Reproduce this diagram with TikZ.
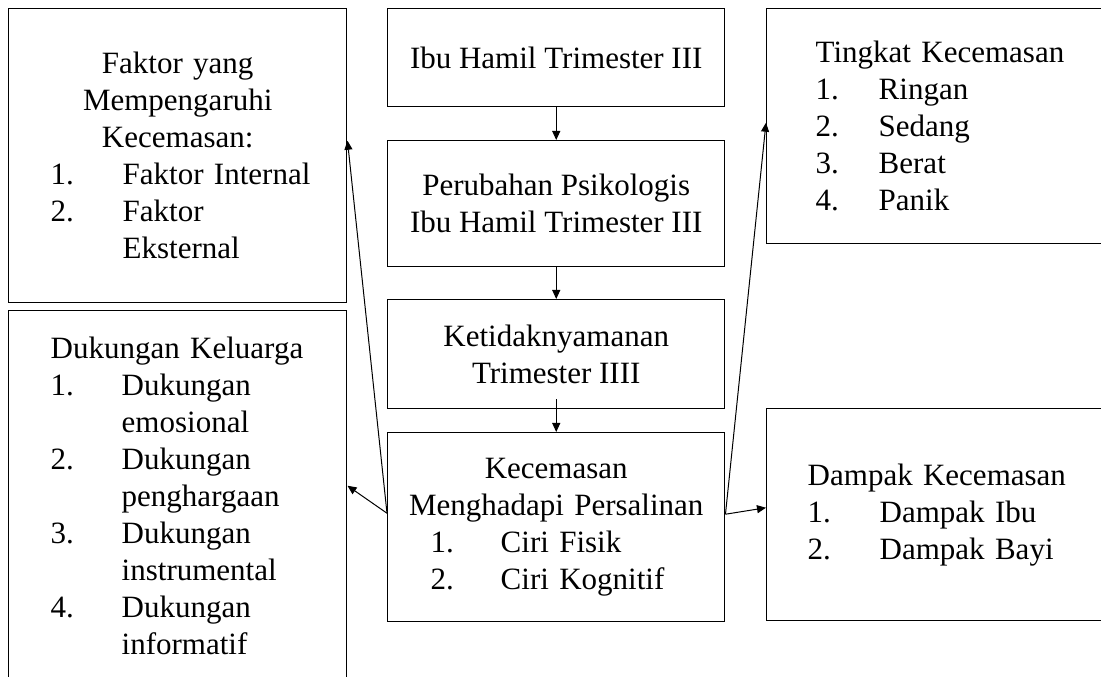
\documentclass[tikz,border=0pt]{standalone}
\usepackage{fontspec}
\setmainfont{Liberation Serif}
\usetikzlibrary{arrows.meta,calc}

\tikzset{every picture/.style={line width=0.75pt}}
\tikzset{
  box/.style={draw, line width=1.1pt, anchor=north west, font=\fontsize{23.25pt}{27.75pt}\selectfont},
  cbox/.style={box, align=center, minimum width=252.75pt, inner xsep=0pt},
  lbox/.style={box, align=left},
  arr/.style={-{Triangle[length=6.75pt,width=6pt]}, line width=0.75pt},
}
% nomor urut + isi, tanpa pemenggalan baris
\newcommand{\butir}[3]{\mbox{\makebox[#1][l]{#2}#3}}
\newcommand{\judul}[1]{\makebox[\linewidth]{#1}}

\begin{document}
\begin{tikzpicture}[x=0.75pt,y=0.75pt,yscale=-1,xscale=1]
\clip (0,0) rectangle (1101,677);

%Flowchart: Process [faktor]
\draw (8,8) node [lbox, inner xsep=31.5pt, text width=190.5pt, minimum height=220.5pt] (faktor) {\judul{Faktor yang}\\ \judul{Mempengaruhi}\\ \judul{Kecemasan:}\\ \butir{54pt}{1.}{Faktor Internal}\\ \butir{54pt}{2.}{Faktor}\\ \hspace*{54pt}Eksternal};
%Flowchart: Process [dukungan]
\draw (8,310) node [lbox, inner xsep=31.5pt, text width=190.5pt, minimum height=277.5pt] (dukungan) {\mbox{Dukungan Keluarga}\\ \butir{53.25pt}{1.}{Dukungan}\\ \hspace*{53.25pt}emosional\\ \butir{53.25pt}{2.}{Dukungan}\\ \hspace*{53.25pt}penghargaan\\ \butir{53.25pt}{3.}{Dukungan}\\ \hspace*{53.25pt}instrumental\\ \butir{53.25pt}{4.}{Dukungan}\\ \hspace*{53.25pt}informatif};

%Flowchart: Process [ibu]
\draw (387,8) node [cbox, minimum height=73.5pt] (ibu) {Ibu Hamil Trimester III};
%Flowchart: Process [perubahan]
\draw (387,140) node [cbox, minimum height=94.5pt] (perubahan) {Perubahan Psikologis\\ Ibu Hamil Trimester III};
%Flowchart: Process [ketidak]
\draw (387,299) node [cbox, minimum height=81.75pt] (ketidak) {Ketidaknyamanan\\ Trimester IIII};
%Flowchart: Process [kecemasan]
\draw (387,432) node [lbox, inner xsep=32.25pt, text width=188.25pt, minimum height=141.75pt] (kecemasan) {\judul{Kecemasan}\\ \judul{Menghadapi Persalinan}\\ \butir{52.5pt}{1.}{Ciri Fisik}\\ \butir{52.5pt}{2.}{Ciri Kognitif}};

%Flowchart: Process [tingkat]
\draw (766,8) node [lbox, inner xsep=36.75pt, text width=184.5pt, minimum height=176.25pt] (tingkat) {\mbox{Tingkat Kecemasan}\\ \butir{47.25pt}{1.}{Ringan}\\ \butir{47.25pt}{2.}{Sedang}\\ \butir{47.25pt}{3.}{Berat}\\ \butir{47.25pt}{4.}{Panik}};
%Flowchart: Process [dampak]
\draw (766,408) node [lbox, inner xsep=30.75pt, text width=196.5pt, minimum height=159pt] (dampak) {\mbox{Dampak Kecemasan}\\ \butir{54pt}{1.}{Dampak Ibu}\\ \butir{54pt}{2.}{Dampak Bayi}};

%Straight Lines
\draw [arr] (ibu) -- (perubahan);
\draw [arr] (perubahan) -- (ketidak);
\draw [arr] ($(ketidak.south)+(0,-10)$) -- (kecemasan.north);

\coordinate (kiri) at ($(kecemasan.west)+(0,-14)$);
\coordinate (kanan) at ($(kecemasan.east)+(0,-13)$);
\draw [arr] (kiri) -- ($(faktor.east)+(0,-15)$);
\draw [arr] (kiri) -- ($(dukungan.east)+(0,-10)$);
\draw [arr] (kanan) -- ($(tingkat.west)+(0,-3.5)$);
\draw [arr] (kanan) -- ($(dampak.west)+(0,-7)$);

\end{tikzpicture}
\end{document}
